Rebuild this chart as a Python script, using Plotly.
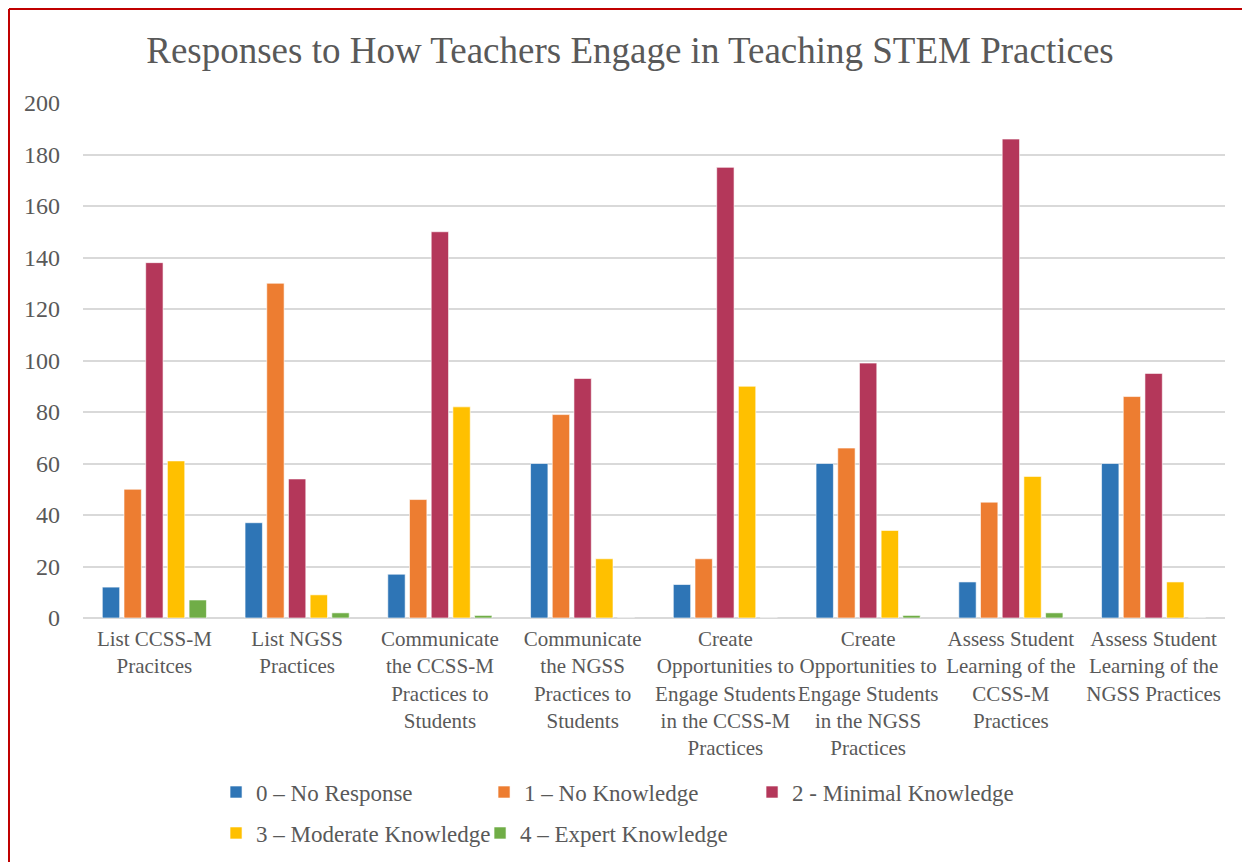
import plotly.graph_objects as go

categories = [
    "List CCSS-M<br>Pracitces",
    "List NGSS<br>Practices",
    "Communicate<br>the CCSS-M<br>Practices to<br>Students",
    "Communicate<br>the NGSS<br>Practices to<br>Students",
    "Create<br>Opportunities to<br>Engage Students<br>in the CCSS-M<br>Practices",
    "Create<br>Opportunities to<br>Engage Students<br>in the NGSS<br>Practices",
    "Assess Student<br>Learning of the<br>CCSS-M<br>Practices",
    "Assess Student<br>Learning of the<br>NGSS Practices",
]

series_names = [
    "0 – No Response",
    "1 – No Knowledge",
    "2 - Minimal Knowledge",
    "3 – Moderate Knowledge",
    "4 – Expert Knowledge",
]

no_response = [12, 37, 17, 60, 13, 60, 14, 60]
no_knowledge = [50, 130, 46, 79, 23, 66, 45, 86]
minimal_knowledge = [138, 54, 150, 93, 175, 99, 186, 95]
moderate_knowledge = [61, 9, 82, 23, 90, 34, 55, 14]
expert_knowledge = [7, 2, 1, 0, 0, 1, 2, 0]

colors = ["#2E75B6", "#ED7D31", "#B4375A", "#FFC000", "#70AD47"]
series_values = [no_response, no_knowledge, minimal_knowledge, moderate_knowledge, expert_knowledge]
legend_ids = ["legend", "legend", "legend", "legend2", "legend2"]

FONT = "Liberation Serif, Times New Roman, serif"
GREY = "#595959"

fig = go.Figure()
for name, vals, col, lg in zip(series_names, series_values, colors, legend_ids):
    fig.add_trace(go.Bar(
        x=categories, y=vals, name=name,
        marker=dict(color=col, line=dict(color="rgba(255,255,255,0.6)", width=1)),
        legend=lg,
    ))

legend_common = dict(
    orientation="h", xref="paper", x=0.1165, xanchor="left", yanchor="middle",
    font=dict(family=FONT, size=23, color=GREY),
    itemwidth=30, bgcolor="rgba(0,0,0,0)",
)

fig.update_layout(
    width=1250, height=862,
    paper_bgcolor="white", plot_bgcolor="white",
    margin=dict(l=75, r=33, t=95, b=252),
    barmode="group", bargap=0.24, bargroupgap=0.2,
    font=dict(family=FONT, color=GREY),
    title=dict(
        text="Responses to How Teachers Engage in Teaching STEM Practices",
        font=dict(family=FONT, size=37, color=GREY),
        xref="container", x=0.4976, xanchor="center",
        yref="container", y=0.9513, yanchor="middle",
    ),
    legend=dict(**legend_common, y=-0.338, entrywidth=223),
    legend2=dict(**legend_common, y=-0.4175, entrywidth=219),
    xaxis=dict(
        tickfont=dict(family=FONT, size=21, color=GREY),
        showline=False, ticks="", showgrid=False, ticklabelstandoff=6,
    ),
    yaxis=dict(
        range=[0, 200], dtick=20,
        tickfont=dict(family=FONT, size=24, color=GREY),
        gridcolor="#D9D9D9", gridwidth=1.5,
        zeroline=True, zerolinecolor="#D9D9D9", zerolinewidth=1.5,
        ticks="", ticklabelstandoff=22,
    ),
    shapes=[
        dict(type="line", xref="paper", yref="paper", x0=-0.0648, x1=1.2, y0=1.1825, y1=1.1825,
             line=dict(color="#C00000", width=2)),
        dict(type="line", xref="paper", yref="paper", x0=-0.0648, x1=-0.0648, y0=1.1825, y1=-0.5,
             line=dict(color="#C00000", width=2)),
    ],
)

fig.write_html("out.html")
